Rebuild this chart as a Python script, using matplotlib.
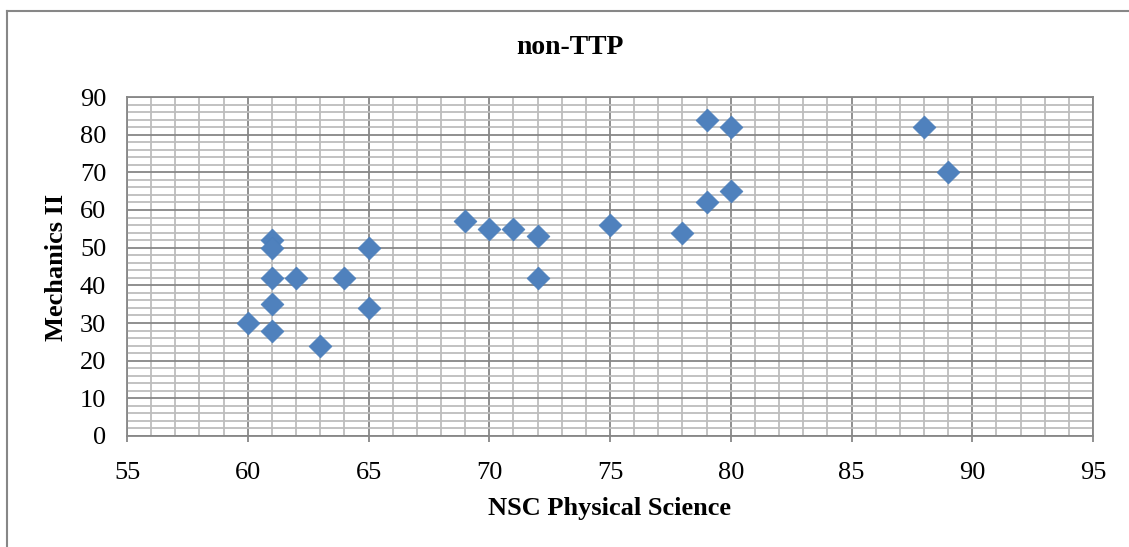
import matplotlib
matplotlib.use("Agg")
import matplotlib.pyplot as plt
from matplotlib.lines import Line2D
from matplotlib.ticker import MultipleLocator

# data
nsc_phys = [60, 61, 61, 61, 61, 61, 62, 63, 64, 65, 65,
            69, 70, 71, 72, 72, 75, 78, 79, 79, 80, 80, 88, 89]
mech2 = [30, 52, 50, 42, 35, 28, 42, 24, 42, 50, 34,
         57, 55, 55, 53, 42, 56, 54, 84, 62, 82, 65, 82, 70]

TITLE = "non-TTP"
XLABEL = "NSC Physical Science"
YLABEL = "Mechanics II"

plt.rcParams["font.family"] = ["Liberation Serif", "DejaVu Serif"]

W, H = 1129, 547
fig = plt.figure(figsize=(W / 100, H / 100), dpi=100)
ax = fig.add_axes([127 / W, 1 - 436 / H, 966 / W, 339 / H])

ax.set_xlim(55, 95)
ax.set_ylim(0, 90)
ax.xaxis.set_major_locator(MultipleLocator(5))
ax.xaxis.set_minor_locator(MultipleLocator(1))
ax.yaxis.set_major_locator(MultipleLocator(10))
ax.yaxis.set_minor_locator(MultipleLocator(2))
ax.grid(which="major", color="#878787", lw=1.3)
ax.grid(which="minor", color="#bdbdbd", lw=1.3)
ax.set_axisbelow(True)
for s in ax.spines.values():
    s.set_color("#878787")
    s.set_linewidth(1.3)

ax.tick_params(axis="x", which="major", length=4.5, width=1.3, color="#878787",
               direction="out", labelsize=19, pad=14)
ax.tick_params(axis="y", which="major", length=0, labelsize=19, pad=15)
ax.tick_params(which="minor", length=0)

ax.scatter(nsc_phys, mech2, marker="D", s=135, color="#4f81bd",
           edgecolors="#4a7ebb", linewidths=0.5, zorder=3, clip_on=False)

fig.text(570 / W, 1 - 48 / H, TITLE, ha="center", va="center",
         fontsize=20, fontweight="bold")
fig.text(610 / W, 1 - 508 / H, XLABEL, ha="center", va="center",
         fontsize=19, fontweight="bold")
fig.text(57 / W, 1 - 267 / H, YLABEL, ha="center", va="center",
         fontsize=19, fontweight="bold", rotation=90)

# outer chart border (only top and left edges fall inside the picture)
fig.add_artist(Line2D([7 / W, 7 / W], [0, 1 - 11 / H], color="#878787", lw=1.5))
fig.add_artist(Line2D([7 / W, 1], [1 - 11 / H, 1 - 11 / H], color="#878787", lw=1.5))

fig.savefig("out.png", dpi=100)
